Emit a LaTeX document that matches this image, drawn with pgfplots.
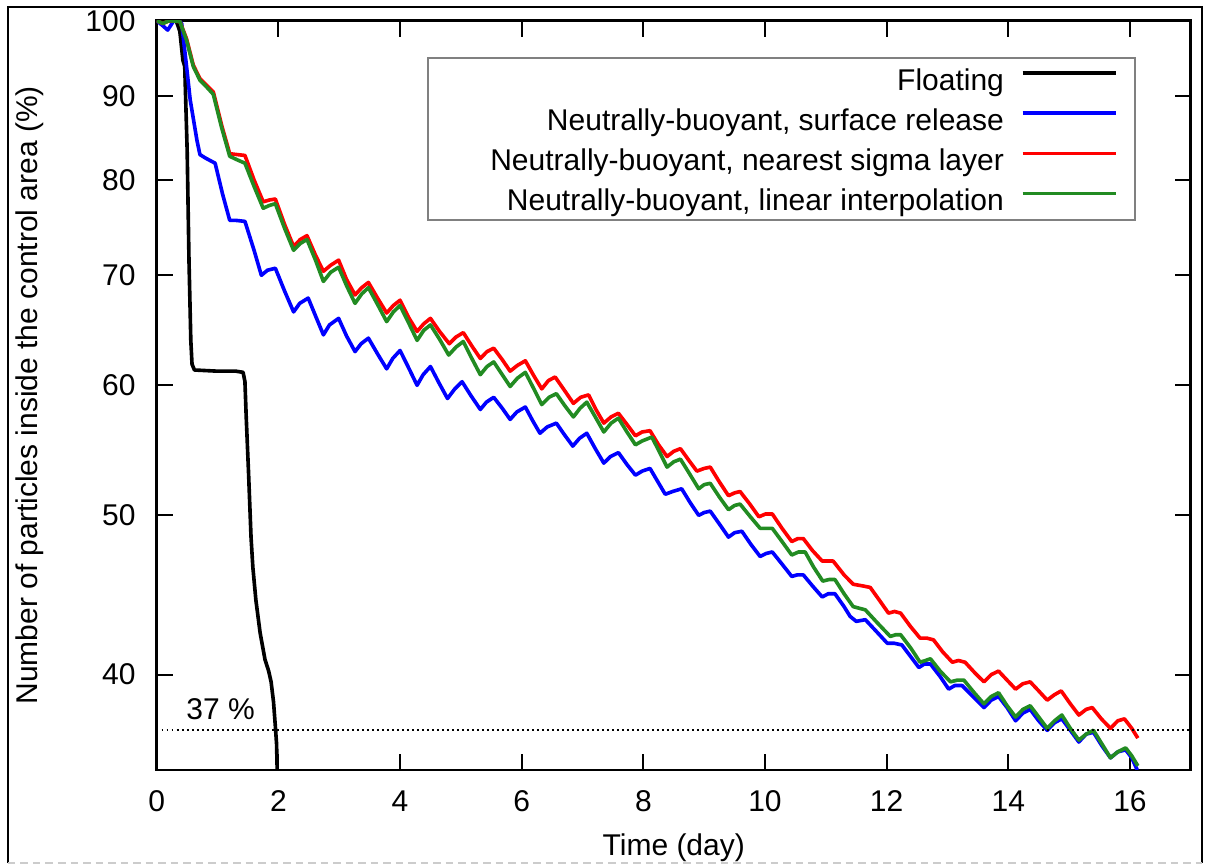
\documentclass[border=0pt]{standalone}
\usepackage{fontspec}
\setmainfont{Liberation Sans}
\usepackage{pgfplots}
\pgfplotsset{compat=1.18}
\usetikzlibrary{calc}
\definecolor{cgreen}{RGB}{34,139,34}
\begin{document}
\fontsize{12}{14}\selectfont
\begin{tikzpicture}
\begin{axis}[
  name=ax,
  scale only axis,
  width=413.6pt, height=299.7pt,
  xmin=0, xmax=17,
  ymode=log, ymin=35, ymax=100,
  xtick={0,2,...,16},
  ytick={40,50,60,70,80,90,100},
  yticklabels={40,50,60,70,80,90,100},
  tick align=inside,
  major tick length=6.4pt,
  tick style={black, line width=0.8pt},
  axis line style={line width=1.1pt},
  /pgf/number format/assume math mode=true,
  tick label style={font=\fontsize{12}{14}\selectfont},
  xticklabel style={yshift=-4pt},
  yticklabel style={xshift=-4.3pt},
  label style={font=\fontsize{12}{14}\selectfont},
  xlabel={Time (day)},
  ylabel={Number of particles inside the control area (\%)},
  xlabel style={at={(axis description cs:0.5,-0.104)}, anchor=center},
  ylabel style={at={(axis description cs:-0.1228,0.5)}, anchor=center},
  legend plot pos=right,
  legend cell align=right,
  legend style={draw=none, fill=none, at={(0.9461,0.9502)}, anchor=north east,
    inner xsep=6.8pt, inner ysep=2pt, column sep=4.8pt, row sep=1.6pt,
    font=\fontsize{12}{14}\selectfont},
  legend image code/.code={\draw[#1] (0pt,3.5pt) -- (37.2pt,3.5pt);},
  every axis plot/.append style={line width=1.45pt, line join=round},
]
\draw[gray, line width=0.5pt] (rel axis cs:0.2624,0.7340) rectangle (rel axis cs:0.9461,0.9502);

% Floating
\addplot[black] coordinates {
(0,100) (0.1,99.8) (0.2,100) (0.32,100) (0.38,98.5) (0.43,94.6) (0.46,93.8)
(0.50,83.4) (0.53,71.5) (0.56,63.9) (0.58,61.8) (0.62,61.3) (1.0,61.2) (1.30,61.2)
(1.42,61.1) (1.45,60.3) (1.47,57.5) (1.51,53) (1.55,48.5) (1.58,46.5) (1.63,44.4)
(1.70,42.4) (1.78,40.85) (1.84,40.2) (1.88,39.6) (1.92,38.5) (1.95,37.2) (1.97,36.3) (1.98,35)
};
\addlegendentry{Floating}

% Surface release
\addplot[blue] coordinates {
(0,100) (0.1,99.3) (0.18,98.7) (0.28,100) (0.38,99.9) (0.41,99.6) (0.49,93.8) (0.55,89.5)
(0.66,84.6) (0.71,82.9) (0.80,82.5) (0.96,81.9) (1.08,78.5) (1.20,75.6) (1.30,75.6)
(1.45,75.5) (1.60,72.5) (1.72,70.0) (1.82,70.5) (1.95,70.7) (2.10,68.5) (2.25,66.5)
(2.35,67.3) (2.49,67.8) (2.62,66.0) (2.74,64.4) (2.84,65.3) (2.99,65.9) (3.12,64.3)
(3.26,62.9) (3.36,63.6) (3.48,64.1) (3.63,62.7) (3.78,61.4) (3.88,62.3) (4.00,63.0)
(4.14,61.5) (4.28,60.0) (4.38,60.9) (4.50,61.6) (4.64,60.2) (4.78,58.9) (4.90,59.7)
(5.02,60.3) (5.17,59.1) (5.32,58.0) (5.42,58.6) (5.54,59.0) (5.68,58.1) (5.81,57.2)
(5.92,57.8) (6.06,58.2) (6.18,57.1) (6.30,56.1) (6.42,56.6) (6.57,56.9) (6.70,56.0)
(6.84,55.1) (6.95,55.7) (7.07,56.1) (7.21,54.9) (7.35,53.8) (7.46,54.3) (7.59,54.6)
(7.73,53.7) (7.87,52.9) (7.98,53.2) (8.11,53.4) (8.24,52.4) (8.36,51.5) (8.48,51.7)
(8.63,51.9) (8.77,50.9) (8.91,50.0) (9.00,50.2) (9.10,50.3) (9.25,49.4) (9.40,48.5)
(9.50,48.8) (9.62,48.9) (9.77,48.0) (9.92,47.2) (10.02,47.4) (10.12,47.5) (10.28,46.7)
(10.44,45.9) (10.53,46.0) (10.63,46.0) (10.78,45.3) (10.94,44.6) (11.04,44.8) (11.15,44.8)
(11.30,44.0) (11.40,43.4) (11.50,43.1) (11.65,43.2) (11.83,42.5) (12.01,41.8) (12.12,41.8)
(12.25,41.7) (12.40,41.0) (12.53,40.4) (12.62,40.6) (12.72,40.6) (12.88,39.9) (13.02,39.2)
(13.12,39.4) (13.24,39.4) (13.42,38.8) (13.60,38.2) (13.72,38.6) (13.84,38.8) (13.98,38.2)
(14.12,37.5) (14.24,37.9) (14.36,38.1) (14.50,37.5) (14.64,37.0) (14.76,37.4) (14.88,37.6)
(15.02,37.0) (15.16,36.4) (15.28,36.8) (15.40,36.9) (15.54,36.2) (15.68,35.6) (15.80,35.9)
(15.93,36.0) (16.03,35.6) (16.12,35.0)
};
\addlegendentry{Neutrally-buoyant, surface release}

% Nearest sigma layer
\addplot[red] coordinates {
(0,100) (0.1,99.6) (0.2,100) (0.38,99.9) (0.49,97.5) (0.60,94.0) (0.71,92.2) (0.80,91.5)
(0.93,90.5) (1.07,86.3) (1.20,83.0) (1.32,82.9) (1.45,82.8) (1.60,80.0) (1.75,77.6)
(1.85,77.8) (1.95,77.9) (2.10,75.2) (2.25,72.9) (2.36,73.6) (2.47,74.0) (2.61,72.0)
(2.74,70.4) (2.86,71.0) (2.99,71.5) (3.12,69.6) (3.26,68.1) (3.37,68.8) (3.48,69.3)
(3.63,67.8) (3.78,66.4) (3.89,67.1) (4.00,67.6) (4.14,66.0) (4.28,64.7) (4.39,65.4)
(4.50,65.9) (4.65,64.7) (4.81,63.6) (4.92,64.2) (5.04,64.6) (5.18,63.4) (5.32,62.3)
(5.43,62.9) (5.54,63.2) (5.68,62.2) (5.81,61.2) (5.93,61.7) (6.06,62.1) (6.20,60.8)
(6.33,59.7) (6.44,60.4) (6.55,60.7) (6.70,59.6) (6.85,58.5) (6.97,59.0) (7.10,59.2)
(7.22,58.0) (7.35,56.9) (7.47,57.4) (7.59,57.7) (7.73,56.8) (7.87,55.9) (7.98,56.2)
(8.11,56.3) (8.25,55.2) (8.39,54.3) (8.50,54.7) (8.61,54.9) (8.75,54.0) (8.88,53.2)
(9.00,53.4) (9.10,53.5) (9.25,52.4) (9.40,51.4) (9.50,51.6) (9.59,51.7) (9.75,50.8)
(9.90,49.9) (10.01,50.1) (10.12,50.1) (10.28,49.1) (10.44,48.2) (10.54,48.4) (10.63,48.4)
(10.78,47.6) (10.94,46.9) (11.05,46.9) (11.12,46.9) (11.30,46.0) (11.45,45.4) (11.60,45.3)
(11.73,45.2) (11.88,44.4) (12.03,43.6) (12.13,43.7) (12.23,43.6) (12.39,42.8) (12.55,42.1)
(12.66,42.1) (12.77,42.0) (12.92,41.3) (13.08,40.7) (13.18,40.8) (13.29,40.7) (13.45,40.1)
(13.60,39.6) (13.72,40.0) (13.84,40.2) (13.98,39.7) (14.12,39.2) (14.24,39.5) (14.36,39.6)
(14.50,39.1) (14.64,38.6) (14.76,38.9) (14.87,39.1) (15.02,38.4) (15.16,37.8) (15.28,38.1)
(15.38,38.2) (15.53,37.6) (15.68,37.1) (15.80,37.5) (15.91,37.6) (16.03,37.1) (16.13,36.6)
};
\addlegendentry{Neutrally-buoyant, nearest sigma layer}

% Linear interpolation
\addplot[cgreen] coordinates {
(0,100) (0.1,99.6) (0.2,100) (0.38,99.9) (0.49,97.3) (0.60,93.8) (0.71,92.0) (0.80,91.3)
(0.93,90.2) (1.07,86.0) (1.20,82.7) (1.32,82.3) (1.45,81.9) (1.60,79.3) (1.75,76.9)
(1.85,77.2) (1.95,77.4) (2.10,74.8) (2.25,72.5) (2.36,73.2) (2.47,73.6) (2.61,71.5)
(2.74,69.4) (2.86,70.3) (2.99,70.8) (3.12,69.0) (3.26,67.3) (3.37,68.2) (3.48,68.8)
(3.63,67.2) (3.78,65.6) (3.89,66.5) (4.00,67.1) (4.14,65.5) (4.28,63.9) (4.39,64.8)
(4.50,65.3) (4.65,64.0) (4.80,62.6) (4.92,63.3) (5.04,63.8) (5.18,62.3) (5.32,60.9)
(5.43,61.6) (5.54,62.0) (5.68,60.9) (5.81,59.9) (5.93,60.6) (6.06,61.1) (6.20,59.7)
(6.33,58.4) (6.45,59.0) (6.57,59.3) (6.71,58.3) (6.85,57.4) (6.96,58.1) (7.07,58.6)
(7.21,57.4) (7.35,56.2) (7.47,56.9) (7.59,57.3) (7.73,56.2) (7.87,55.2) (7.98,55.5)
(8.14,55.8) (8.27,54.6) (8.39,53.5) (8.50,53.9) (8.61,54.1) (8.76,53.0) (8.91,51.9)
(9.00,52.2) (9.10,52.3) (9.25,51.3) (9.40,50.4) (9.50,50.7) (9.59,50.8) (9.76,49.9)
(9.92,49.1) (10.02,49.1) (10.12,49.1) (10.28,48.2) (10.44,47.3) (10.55,47.5) (10.66,47.5)
(10.80,46.5) (10.95,45.6) (11.05,45.7) (11.15,45.7) (11.30,44.8) (11.45,44.0) (11.55,43.9)
(11.65,43.8) (11.85,43.0) (12.06,42.2) (12.15,42.3) (12.23,42.3) (12.40,41.5) (12.55,40.7)
(12.64,40.8) (12.72,40.9) (12.88,40.2) (13.05,39.6) (13.16,39.7) (13.27,39.7) (13.44,39.0)
(13.60,38.4) (13.72,38.8) (13.84,39.0) (13.98,38.3) (14.12,37.7) (14.24,38.1) (14.36,38.3)
(14.50,37.7) (14.64,37.1) (14.76,37.5) (14.88,37.8) (15.02,37.1) (15.16,36.5) (15.28,36.8)
(15.40,37.0) (15.54,36.3) (15.68,35.6) (15.80,35.9) (15.93,36.1) (16.03,35.7) (16.13,35.2)
};
\addlegendentry{Neutrally-buoyant, linear interpolation}

\addplot[black, line width=0.7pt, dash pattern=on 0.7pt off 1.3pt, forget plot] coordinates {(0,37) (17,37)};
\node[font=\fontsize{12}{14}\selectfont] at (axis cs:1.05,38.1) {37 \%};
\end{axis}
\pgfresetboundingbox
\path[use as bounding box] ($(ax.south west)+(-62.7pt,-38pt)$) rectangle ($(ax.north east)+(6.9pt,8.3pt)$);
\coordinate (F1) at ($(ax.south west)+(-59.5pt,-37.2pt)$);
\coordinate (F2) at ($(ax.north east)+(4.5pt,5.5pt)$);
\draw[line width=0.5pt] (F1) -- (F1 |- F2) -- (F2) -- (F2 |- F1);
\draw[line width=0.5pt, gray!40, dash pattern=on 3pt off 2pt] (F1) -- (F2 |- F1);
\end{tikzpicture}
\end{document}
